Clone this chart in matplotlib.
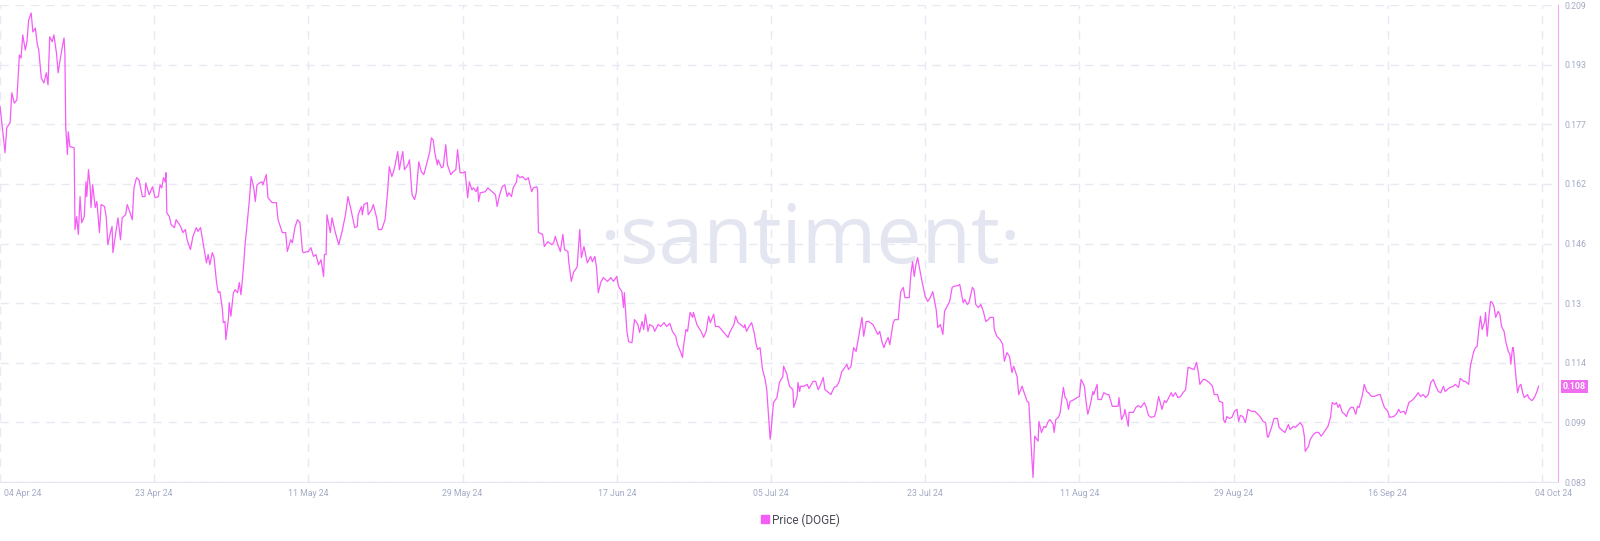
import matplotlib
matplotlib.use("Agg")
import matplotlib.pyplot as plt
import matplotlib.transforms as mtransforms
from matplotlib.lines import Line2D
import numpy as np

# days since 04 Apr 24 and DOGE price (USD)
days = [
    0.0, 0.6, 0.8, 1.2, 1.4, 1.7, 2.0, 2.3, 2.5, 2.7, 3.0, 3.2, 3.4, 3.7, 3.9, 4.2, 4.4, 4.6, 4.9, 5.2,
    5.5, 5.7, 5.9, 6.2, 6.4, 6.7, 6.9, 7.1, 7.4, 7.6, 7.7, 7.8, 8.0, 8.1, 8.3, 8.8, 8.9, 9.1, 9.3, 9.5,
    9.7, 10.0, 10.2, 10.3, 10.5, 10.7, 10.8, 11.0, 11.3, 11.5, 11.8, 12.0, 12.4, 12.6, 12.8, 13.1, 13.3, 13.4, 13.8, 14.0,
    14.3, 14.5, 14.9, 15.1, 15.4, 15.7, 15.9, 16.2, 16.5, 16.9, 17.2, 17.3, 17.7, 18.1, 18.4, 18.8, 19.0, 19.2, 19.4, 19.6,
    19.7, 19.8, 20.1, 20.3, 20.7, 20.9, 21.3, 21.5, 21.7, 22.0, 22.2, 22.6, 22.9, 23.3, 23.5, 23.8, 23.9, 24.2, 24.5, 24.7,
    24.9, 25.2, 25.4, 25.7, 25.9, 26.1, 26.4, 26.5, 26.7, 26.8, 27.1, 27.2, 27.4, 27.7, 27.9, 28.2, 28.4, 28.6, 28.9, 29.1,
    29.3, 29.6, 29.8, 30.1, 30.3, 30.5, 30.8, 31.1, 31.2, 31.6, 31.8, 32.3, 32.8, 33.0, 33.5, 33.9, 34.1, 34.5, 34.7, 35.0,
    35.3, 35.6, 35.9, 36.0, 36.6, 36.9, 37.2, 37.5, 37.8, 38.1, 38.4, 38.5, 38.7, 38.8, 39.2, 39.4, 39.8, 40.2, 40.6, 41.0,
    41.3, 41.6, 42.1, 42.4, 42.5, 42.9, 43.0, 43.2, 43.6, 43.7, 44.1, 44.3, 44.7, 44.9, 45.3, 45.5, 45.7, 46.0, 46.2, 46.5,
    46.7, 46.9, 47.2, 47.4, 47.6, 47.8, 48.0, 48.4, 48.6, 48.9, 49.2, 49.4, 49.7, 50.0, 50.3, 50.7, 51.0, 51.2, 51.4, 51.6,
    51.9, 52.0, 52.4, 52.6, 52.9, 53.1, 53.5, 53.8, 54.1, 54.3, 54.6, 55.0, 55.2, 55.5, 55.7, 56.0, 56.2, 56.5, 56.7, 56.8,
    57.0, 57.6, 57.9, 58.4, 58.8, 59.0, 59.3, 59.6, 59.9, 60.2, 60.4, 60.7, 60.9, 61.3, 61.4, 61.7, 62.0, 62.4, 62.7, 63.1,
    63.3, 63.7, 63.8, 63.9, 64.4, 64.6, 65.0, 65.5, 65.7, 65.9, 66.2, 66.5, 66.8, 67.0, 67.4, 67.5, 67.8, 68.1, 68.3, 68.5,
    68.8, 69.0, 69.3, 69.5, 69.7, 70.1, 70.3, 70.6, 70.8, 71.0, 71.3, 71.6, 72.1, 72.5, 72.8, 73.2, 73.4, 73.8, 74.0, 74.1,
    74.4, 74.6, 75.0, 75.3, 75.7, 75.9, 76.2, 76.4, 76.6, 76.9, 77.1, 77.5, 77.7, 78.1, 78.4, 78.8, 79.1, 79.5, 79.8, 80.2,
    80.4, 80.8, 81.0, 81.1, 81.4, 81.6, 81.9, 82.2, 82.3, 82.7, 83.2, 83.5, 83.8, 84.1, 84.3, 84.7, 84.9, 85.3, 85.8, 86.1,
    86.4, 86.6, 87.1, 87.3, 87.6, 87.9, 88.3, 88.4, 88.6, 88.9, 89.2, 89.5, 89.7, 89.9, 90.2, 90.5, 90.8, 91.0, 91.1, 91.4,
    91.5, 91.7, 91.8, 92.2, 92.3, 92.5, 92.9, 93.0, 93.4, 93.5, 93.7, 94.1, 94.2, 94.6, 94.7, 94.9, 95.0, 95.4, 95.8, 96.0,
    96.5, 96.8, 97.1, 97.3, 97.7, 97.9, 98.2, 98.6, 99.0, 99.3, 99.6, 99.9, 100.1, 100.5, 100.7, 101.0, 101.3, 101.6, 101.8, 102.0,
    102.3, 102.5, 102.8, 103.1, 103.6, 104.0, 104.2, 104.4, 104.7, 104.9, 105.1, 105.4, 105.6, 106.0, 106.2, 106.6, 106.7, 106.9, 107.2, 107.4,
    107.9, 108.1, 108.3, 108.5, 108.7, 108.9, 109.2, 109.5, 109.8, 110.1, 110.4, 110.7, 111.1, 111.3, 111.6, 111.9, 112.1, 112.4, 112.7, 113.0,
    113.2, 113.7, 113.9, 114.3, 114.5, 114.8, 115.0, 115.4, 115.6, 115.8, 116.1, 116.4, 116.7, 117.0, 117.3, 117.5, 117.9, 118.0, 118.3, 118.7,
    119.0, 119.2, 119.5, 119.8, 120.1, 120.3, 120.7, 120.9, 121.3, 121.5, 121.9, 122.1, 122.4, 122.6, 122.8, 123.2, 123.3, 123.6, 123.9, 124.1,
    124.4, 124.6, 125.0, 125.1, 125.3, 125.6, 125.8, 126.2, 126.4, 126.6, 126.8, 127.0, 127.5, 127.8, 128.1, 128.3, 128.7, 128.9, 129.1, 129.4,
    129.7, 129.8, 130.2, 130.3, 130.7, 131.0, 131.4, 131.6, 132.0, 132.3, 132.7, 132.8, 133.1, 133.4, 133.5, 133.9, 134.0, 134.5, 134.8, 135.1,
    135.4, 135.8, 136.0, 136.3, 136.6, 137.0, 137.2, 137.5, 137.7, 137.9, 138.2, 138.4, 138.6, 139.0, 139.2, 139.5, 139.8, 140.1, 140.4, 140.7,
    141.0, 141.4, 141.7, 142.0, 142.2, 142.4, 142.8, 143.0, 143.5, 143.9, 144.1, 144.5, 144.7, 145.1, 145.2, 145.4, 145.6, 145.9, 146.2, 146.5,
    146.8, 147.0, 147.2, 147.5, 147.8, 148.1, 148.5, 148.9, 149.3, 149.6, 149.9, 150.2, 150.4, 150.5, 150.9, 151.2, 151.6, 151.8, 152.3, 152.5,
    152.9, 153.1, 153.5, 153.7, 154.1, 154.3, 154.6, 154.8, 154.9, 155.3, 155.5, 155.9, 156.2, 156.5, 156.8, 157.2, 157.6, 157.9, 158.1, 158.4,
    158.6, 158.8, 159.0, 159.3, 159.6, 159.8, 160.0, 160.3, 160.6, 160.9, 161.1, 161.3, 161.7, 161.9, 162.2, 162.4, 162.8, 163.1, 163.6, 163.8,
    164.1, 164.3, 164.7, 164.9, 165.4, 165.7, 166.0, 166.2, 166.6, 166.8, 167.2, 167.4, 167.7, 168.0, 168.3, 168.6, 168.9, 169.2, 169.5, 169.8,
    170.1, 170.4, 170.7, 171.0, 171.3, 171.5, 171.9, 172.1, 172.5, 172.7, 173.1, 173.3, 173.7, 173.9, 174.3, 174.5, 174.9, 175.1, 175.3, 175.5,
    175.7, 175.9, 176.2, 176.3, 176.5, 176.7, 176.9, 177.1, 177.3, 177.5, 177.8, 178.0, 178.2, 178.5, 178.7, 179.0, 179.2, 179.3, 179.5, 179.6,
    179.9, 180.1, 180.3, 180.5, 180.7, 180.9, 181.3, 181.4, 181.8, 182.1, 182.4, 182.6,
]
price = [
    0.1823, 0.1700, 0.1766, 0.1779, 0.1858, 0.1831, 0.1839, 0.1958, 0.1950, 0.2011, 0.1971, 0.1993, 0.2050, 0.2069, 0.2019, 0.2029, 0.1990, 0.1971, 0.1898, 0.1884,
    0.1911, 0.1879, 0.2006, 0.1993, 0.2011, 0.1963, 0.1911, 0.1940, 0.1980, 0.2003, 0.1963, 0.1769, 0.1695, 0.1755, 0.1716, 0.1713, 0.1497, 0.1531, 0.1484, 0.1584,
    0.1515, 0.1531, 0.1623, 0.1584, 0.1655, 0.1610, 0.1555, 0.1615, 0.1555, 0.1571, 0.1489, 0.1563, 0.1558, 0.1531, 0.1457, 0.1489, 0.1505, 0.1436, 0.1497, 0.1528,
    0.1470, 0.1528, 0.1536, 0.1563, 0.1544, 0.1523, 0.1607, 0.1634, 0.1628, 0.1584, 0.1584, 0.1620, 0.1589, 0.1610, 0.1581, 0.1584, 0.1615, 0.1607, 0.1634, 0.1623,
    0.1647, 0.1541, 0.1531, 0.1510, 0.1502, 0.1523, 0.1510, 0.1502, 0.1489, 0.1497, 0.1470, 0.1444, 0.1479, 0.1502, 0.1492, 0.1502, 0.1489, 0.1449, 0.1409, 0.1431,
    0.1404, 0.1436, 0.1423, 0.1357, 0.1330, 0.1333, 0.1286, 0.1251, 0.1254, 0.1206, 0.1259, 0.1304, 0.1268, 0.1330, 0.1338, 0.1330, 0.1357, 0.1325, 0.1399, 0.1462,
    0.1505, 0.1576, 0.1637, 0.1610, 0.1571, 0.1615, 0.1620, 0.1623, 0.1615, 0.1642, 0.1581, 0.1568, 0.1568, 0.1523, 0.1489, 0.1489, 0.1439, 0.1470, 0.1462, 0.1502,
    0.1523, 0.1515, 0.1439, 0.1436, 0.1439, 0.1449, 0.1426, 0.1431, 0.1404, 0.1417, 0.1373, 0.1431, 0.1431, 0.1536, 0.1489, 0.1528, 0.1489, 0.1457, 0.1492, 0.1536,
    0.1584, 0.1555, 0.1502, 0.1505, 0.1536, 0.1558, 0.1536, 0.1563, 0.1568, 0.1536, 0.1549, 0.1563, 0.1528, 0.1497, 0.1497, 0.1510, 0.1523, 0.1597, 0.1663, 0.1637,
    0.1650, 0.1668, 0.1703, 0.1655, 0.1681, 0.1703, 0.1655, 0.1668, 0.1681, 0.1589, 0.1576, 0.1594, 0.1676, 0.1650, 0.1642, 0.1676, 0.1703, 0.1739, 0.1734, 0.1700,
    0.1668, 0.1681, 0.1660, 0.1663, 0.1721, 0.1668, 0.1642, 0.1650, 0.1655, 0.1708, 0.1647, 0.1647, 0.1650, 0.1581, 0.1623, 0.1602, 0.1607, 0.1597, 0.1610, 0.1571,
    0.1594, 0.1597, 0.1607, 0.1597, 0.1589, 0.1558, 0.1589, 0.1610, 0.1615, 0.1584, 0.1594, 0.1584, 0.1607, 0.1623, 0.1642, 0.1634, 0.1637, 0.1628, 0.1634, 0.1597,
    0.1607, 0.1610, 0.1602, 0.1489, 0.1484, 0.1452, 0.1465, 0.1457, 0.1462, 0.1479, 0.1457, 0.1439, 0.1484, 0.1444, 0.1439, 0.1412, 0.1360, 0.1386, 0.1391, 0.1399,
    0.1497, 0.1423, 0.1452, 0.1431, 0.1409, 0.1426, 0.1412, 0.1426, 0.1396, 0.1330, 0.1357, 0.1370, 0.1360, 0.1370, 0.1360, 0.1373, 0.1347, 0.1333, 0.1291, 0.1330,
    0.1228, 0.1201, 0.1198, 0.1259, 0.1246, 0.1225, 0.1254, 0.1233, 0.1273, 0.1228, 0.1246, 0.1241, 0.1228, 0.1246, 0.1241, 0.1251, 0.1241, 0.1249, 0.1228, 0.1215,
    0.1193, 0.1172, 0.1159, 0.1185, 0.1233, 0.1228, 0.1278, 0.1265, 0.1278, 0.1246, 0.1228, 0.1212, 0.1228, 0.1268, 0.1251, 0.1273, 0.1241, 0.1241, 0.1228, 0.1220,
    0.1212, 0.1225, 0.1246, 0.1268, 0.1251, 0.1246, 0.1238, 0.1246, 0.1228, 0.1241, 0.1251, 0.1225, 0.1198, 0.1180, 0.1185, 0.1127, 0.1101, 0.1074, 0.1040, 0.0943,
    0.0964, 0.1014, 0.1040, 0.1053, 0.1066, 0.1093, 0.1109, 0.1136, 0.1114, 0.1101, 0.1083, 0.1074, 0.1027, 0.1056, 0.1093, 0.1069, 0.1083, 0.1083, 0.1088, 0.1077,
    0.1096, 0.1096, 0.1074, 0.1083, 0.1106, 0.1074, 0.1069, 0.1061, 0.1080, 0.1083, 0.1096, 0.1122, 0.1127, 0.1141, 0.1127, 0.1136, 0.1185, 0.1175, 0.1201, 0.1228,
    0.1265, 0.1215, 0.1254, 0.1254, 0.1246, 0.1228, 0.1220, 0.1228, 0.1198, 0.1185, 0.1198, 0.1212, 0.1193, 0.1251, 0.1259, 0.1259, 0.1286, 0.1333, 0.1344, 0.1317,
    0.1317, 0.1378, 0.1412, 0.1373, 0.1404, 0.1423, 0.1386, 0.1352, 0.1320, 0.1307, 0.1317, 0.1333, 0.1286, 0.1238, 0.1246, 0.1220, 0.1281, 0.1294, 0.1307, 0.1344,
    0.1347, 0.1349, 0.1352, 0.1304, 0.1312, 0.1299, 0.1304, 0.1344, 0.1338, 0.1299, 0.1291, 0.1299, 0.1281, 0.1254, 0.1259, 0.1265, 0.1265, 0.1233, 0.1215, 0.1206,
    0.1193, 0.1149, 0.1172, 0.1162, 0.1119, 0.1136, 0.1109, 0.1061, 0.1083, 0.1069, 0.1043, 0.1040, 0.0916, 0.0842, 0.0951, 0.0938, 0.0990, 0.0961, 0.0977, 0.0974,
    0.0990, 0.0995, 0.0982, 0.0961, 0.0995, 0.1001, 0.1011, 0.1080, 0.1053, 0.1048, 0.1022, 0.1043, 0.1048, 0.1053, 0.1056, 0.1101, 0.1083, 0.1040, 0.1009, 0.1035,
    0.1069, 0.1061, 0.1088, 0.1048, 0.1048, 0.1066, 0.1061, 0.1061, 0.1030, 0.1030, 0.1030, 0.1053, 0.0995, 0.1009, 0.1022, 0.0977, 0.1014, 0.1014, 0.1027, 0.1032,
    0.1027, 0.1040, 0.1030, 0.1006, 0.1001, 0.1003, 0.1017, 0.1056, 0.1040, 0.1022, 0.1045, 0.1040, 0.1048, 0.1066, 0.1056, 0.1066, 0.1053, 0.1056, 0.1066, 0.1074,
    0.1133, 0.1130, 0.1127, 0.1146, 0.1122, 0.1088, 0.1101, 0.1101, 0.1093, 0.1083, 0.1061, 0.1061, 0.1043, 0.1040, 0.0995, 0.0987, 0.1003, 0.0998, 0.1001, 0.1017,
    0.1022, 0.0990, 0.1006, 0.1003, 0.0987, 0.1022, 0.1017, 0.1017, 0.1009, 0.1001, 0.0990, 0.0987, 0.0951, 0.0948, 0.0974, 0.0998, 0.0998, 0.0974, 0.0964, 0.0961,
    0.0982, 0.0969, 0.0977, 0.0974, 0.0982, 0.0987, 0.0977, 0.0951, 0.0911, 0.0925, 0.0943, 0.0956, 0.0961, 0.0961, 0.0951, 0.0964, 0.0977, 0.1001, 0.1040, 0.1035,
    0.1040, 0.1027, 0.1035, 0.1014, 0.1009, 0.1003, 0.1017, 0.1027, 0.1027, 0.1009, 0.1030, 0.1027, 0.1061, 0.1088, 0.1069, 0.1066, 0.1056, 0.1056, 0.1061, 0.1061,
    0.1040, 0.1027, 0.1017, 0.1001, 0.1003, 0.1009, 0.1022, 0.1014, 0.1017, 0.1009, 0.1040, 0.1043, 0.1048, 0.1056, 0.1066, 0.1056, 0.1061, 0.1053, 0.1061, 0.1093,
    0.1101, 0.1083, 0.1069, 0.1066, 0.1083, 0.1069, 0.1077, 0.1080, 0.1083, 0.1088, 0.1080, 0.1104, 0.1096, 0.1096, 0.1088, 0.1136, 0.1175, 0.1185, 0.1188, 0.1233,
    0.1268, 0.1233, 0.1254, 0.1278, 0.1215, 0.1268, 0.1307, 0.1304, 0.1294, 0.1265, 0.1281, 0.1273, 0.1241, 0.1228, 0.1201, 0.1175, 0.1167, 0.1141, 0.1185, 0.1185,
    0.1109, 0.1066, 0.1083, 0.1088, 0.1066, 0.1053, 0.1061, 0.1053, 0.1045, 0.1053, 0.1069, 0.1083,
]

x_tick_labels = ["04 Apr 24", "23 Apr 24", "11 May 24", "29 May 24", "17 Jun 24", "05 Jul 24",
                 "23 Jul 24", "11 Aug 24", "29 Aug 24", "16 Sep 24", "04 Oct 24"]
x_span_days = 183
y_tick_labels = ["0.083", "0.099", "0.114", "0.13", "0.146", "0.162", "0.177", "0.193", "0.209"]
y_min, y_max = 0.083, 0.209
series_name = "Price (DOGE)"

line_color = "#f45cf6"
tick_color = "#a3aac4"
grid_color = "#e8eaf3"

fig = plt.figure(figsize=(16, 5.41), dpi=100)
ax = fig.add_axes([0.0, 0.109, 0.97375, 0.8817])

ax.plot(days, price, color=line_color, lw=0.9, zorder=3)

ax.set_xlim(0, 184.9)
ax.set_ylim(y_min, y_max)

ax.set_xticks(np.linspace(0, x_span_days, len(x_tick_labels)))
ax.set_xticklabels(x_tick_labels)
ax.set_yticks(np.linspace(y_min, y_max, len(y_tick_labels)))
ax.set_yticklabels(y_tick_labels)
ax.yaxis.tick_right()

ax.tick_params(axis="both", length=0, labelsize=6.3, labelcolor=tick_color)
ax.tick_params(axis="x", pad=5)
ax.tick_params(axis="y", pad=5)
for lab in ax.get_xticklabels() + ax.get_yticklabels():
    lab.set_fontfamily("Roboto")

# first label sits right of the edge, last one nudged right
xl = ax.get_xticklabels()
xl[0].set_ha("left")
xl[0].set_transform(xl[0].get_transform() + mtransforms.ScaledTranslation(4 / 100, 0, fig.dpi_scale_trans))
xl[-1].set_transform(xl[-1].get_transform() + mtransforms.ScaledTranslation(12 / 100, 0, fig.dpi_scale_trans))

ax.grid(True, color=grid_color, lw=1, ls=(0, (6, 5)), zorder=0)

for s in ["top", "left"]:
    ax.spines[s].set_visible(False)
ax.spines["bottom"].set_color("#e4e6f0")
ax.spines["right"].set_color("#f6a6f6")

# watermark
ax.text(0.52, 0.459, "·santiment·", transform=ax.transAxes, ha="center", va="baseline",
        fontsize=58, family="Open Sans", fontweight="normal", color="#e3e5f0", zorder=1)

# last value tag
ax.annotate(f"{price[-1]:.3f}", xy=(1.0, price[-1]), xycoords=("axes fraction", "data"),
            xytext=(5, 0), textcoords="offset pixels", ha="left", va="center",
            fontsize=6.5, family="Roboto", color="white", fontweight="bold",
            bbox=dict(boxstyle="square,pad=0.2", fc="#f06ef0", ec="none"),
            annotation_clip=False)

handle = Line2D([], [], color=line_color, marker="s", ls="none", markersize=6)
fig.legend([handle], [series_name], loc="center", bbox_to_anchor=(0.5, 0.039), frameon=False,
           handletextpad=0.2, handlelength=0.8, prop={"family": "Roboto", "size": 8.5},
           labelcolor="#4a4a55")

fig.savefig("out.png", dpi=100)
